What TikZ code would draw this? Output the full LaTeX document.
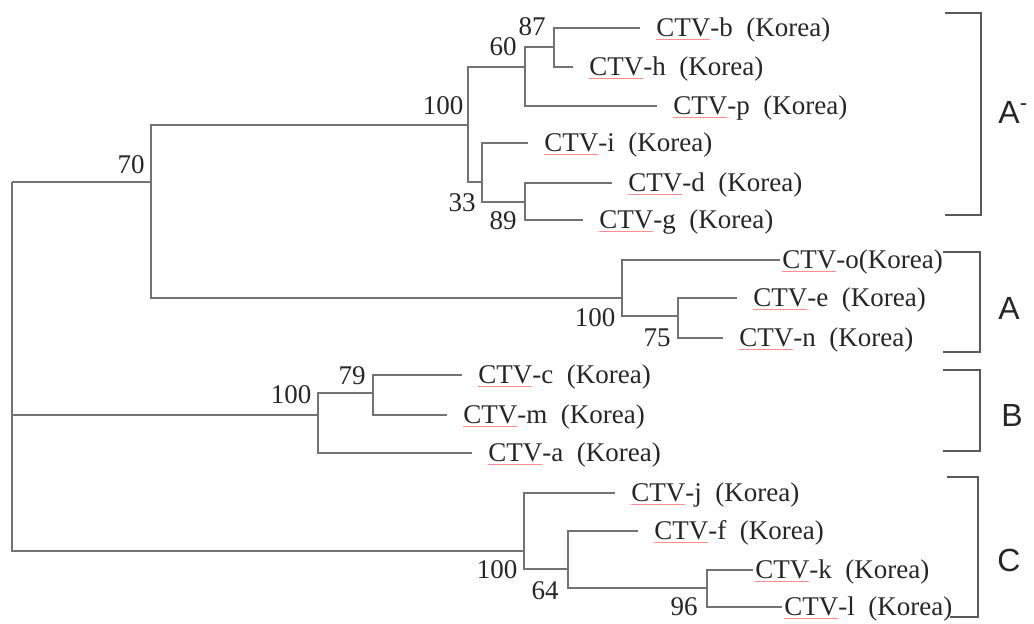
\documentclass[tikz,border=0pt]{standalone}
\usepackage{fontspec}
\setmainfont{Liberation Serif}
\setsansfont{Liberation Sans}
\usetikzlibrary{positioning}
\newcommand{\ctv}{\textcolor{red!45}{\underline{\textcolor{black!85}{CTV}}}}
\tikzset{
  branch/.style={draw=black!55, line width=0.65pt},
  leaf/.style={anchor=west, inner xsep=8pt, inner ysep=0pt, text height=0.82em, text depth=0pt,
    text=black!85, font=\fontsize{13.5}{15}\selectfont},
  leaftight/.style={leaf, inner xsep=1pt},
  boot/.style={inner sep=0pt, text=black!85, font=\fontsize{13.5}{15}\selectfont},
  bracket/.style={draw=black!65, line width=1.1pt},
  clade/.style={anchor=west, inner sep=0pt, text=black!85, font=\sffamily\fontsize{16}{18}\selectfont}
}

\begin{document}
\begin{tikzpicture}[x=0.5pt, y=-0.5pt]
  \useasboundingbox (0,0) rectangle (1034,623);
  % internal nodes
  \coordinate (root) at (12,182);
  \coordinate (n70) at (151,182);
  \coordinate (n100a) at (468,125); \coordinate (n60) at (525,67); \coordinate (n87) at (554,47);
  \coordinate (n33) at (482,182); \coordinate (n89) at (525,202);
  \coordinate (n100b) at (622,298); \coordinate (n75) at (678,316);
  \coordinate (n100c) at (318,415); \coordinate (n79) at (373,393);
  \coordinate (n100d) at (524,551); \coordinate (n64) at (568,569); \coordinate (n96) at (707,588);

  % leaves
  \node[leaf] (tb) at (640,28) {\ctv-b\ \ (Korea)};
  \node[leaf] (th) at (573,67) {\ctv-h\ \ (Korea)};
  \node[leaf] (tp) at (657,106) {\ctv-p\ \ (Korea)};
  \node[leaf] (ti) at (528,143) {\ctv-i\ \ (Korea)};
  \node[leaf] (td) at (612,183) {\ctv-d\ \ (Korea)};
  \node[leaf] (tg) at (583,220) {\ctv-g\ \ (Korea)};
  \node[leaftight] (to) at (780,260) {\ctv-o(Korea)};
  \node[leaf] (te) at (737,298) {\ctv-e\ \ (Korea)};
  \node[leaf] (tn) at (723,338) {\ctv-n\ \ (Korea)};
  \node[leaf] (tc) at (462,375) {\ctv-c\ \ (Korea)};
  \node[leaf] (tm) at (447,415) {\ctv-m\ \ (Korea)};
  \node[leaf] (ta) at (472,453) {\ctv-a\ \ (Korea)};
  \node[leaf] (tj) at (615,493) {\ctv-j\ \ (Korea)};
  \node[leaf] (tf) at (638,531) {\ctv-f\ \ (Korea)};
  \node[leaftight] (tk) at (753,570) {\ctv-k\ \ (Korea)};
  \node[leaftight] (tl) at (782,607) {\ctv-l\ \ (Korea)};

  % branches
  \draw[branch] (root) -- (n70);
  \draw[branch] (root) |- (n100c);
  \draw[branch] (root) |- (n100d);
  \draw[branch] (n70) |- (n100a); \draw[branch] (n70) |- (n100b);
  \draw[branch] (n100a) |- (n60); \draw[branch] (n100a) |- (n33);
  \draw[branch] (n60) |- (n87); \draw[branch] (n60) |- (tp.west);
  \draw[branch] (n87) |- (tb.west); \draw[branch] (n87) |- (th.west);
  \draw[branch] (n33) |- (ti.west); \draw[branch] (n33) |- (n89);
  \draw[branch] (n89) |- (td.west); \draw[branch] (n89) |- (tg.west);
  \draw[branch] (n100b) |- (to.west); \draw[branch] (n100b) |- (n75);
  \draw[branch] (n75) |- (te.west); \draw[branch] (n75) |- (tn.west);
  \draw[branch] (n100c) |- (n79); \draw[branch] (n100c) |- (ta.west);
  \draw[branch] (n79) |- (tc.west); \draw[branch] (n79) |- (tm.west);
  \draw[branch] (n100d) |- (tj.west); \draw[branch] (n100d) |- (n64);
  \draw[branch] (n64) |- (tf.west); \draw[branch] (n64) |- (n96);
  \draw[branch] (n96) |- (tk.west); \draw[branch] (n96) |- (tl.west);

  % bootstrap values
  \node[boot] (b70) at (131,165) {70};
  \node[boot] (b100a) at (443,106) {100};
  \node[boot] (b60) at (503,47) {60};
  \node[boot] (b87) at (532,27) {87};
  \node[boot] (b33) at (462,203) {33};
  \node[boot] (b89) at (503,221) {89};
  \node[boot] (b100b) at (595,318) {100};
  \node[boot] (b75) at (657,338) {75};
  \node[boot] (b100c) at (291,395) {100};
  \node[boot] (b79) at (352,376) {79};
  \node[boot] (b100d) at (497,570) {100};
  \node[boot] (b64) at (545,591) {64};
  \node[boot] (b96) at (684,607) {96};

  % clade brackets
  \draw[bracket] (945,13) -| (981,215) -- (945,215);
  \draw[bracket] (943,252) -| (980,352) -- (943,352);
  \draw[bracket] (943,370) -| (980,451) -- (943,451);
  \draw[bracket] (947,477) -| (978,617) -- (950,617);
  \node[clade] (ca1) at (998,112) {A\textsuperscript{-}};
  \node[clade] (ca) at (998,308) {A};
  \node[clade] (cb) at (1001,415) {B};
  \node[clade] (cc) at (997,560) {C};
\end{tikzpicture}
\end{document}
